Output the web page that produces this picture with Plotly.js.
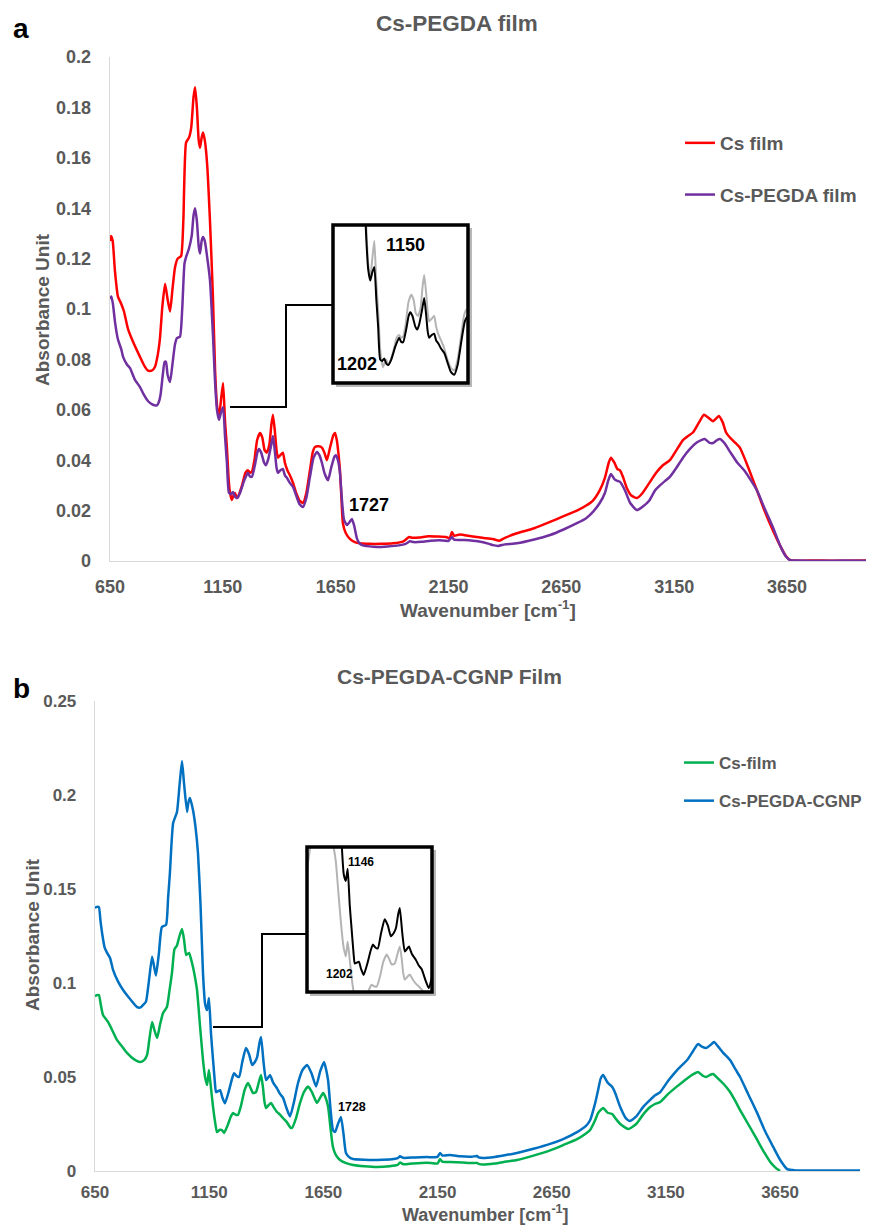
<!DOCTYPE html>
<html>
<head>
<meta charset="utf-8">
<script src="https://cdn.plot.ly/plotly-3.0.1.min.js"></script>
<style>html,body{margin:0;padding:0;background:#fff}#chart{width:869px;height:1226px}</style>
</head>
<body>
<div id="chart"></div>
<script>
// ---------- Panel a data ----------
const wnCsFilmA = [650,655,662,672,685,700,712,730,752,783,805,818,835,849,862,871,882,894,905,916,927,938,950,965,975,987,1000,1010,1020,1027,1035,1043,1049,1056,1062,1070,1080,1093,1106,1116,1124,1133,1142,1151,1160,1168,1176,1182,1190,1197,1204,1212,1217,1235,1250,1261,1270,1279,1290,1302,1315,1325,1335,1345,1356,1365,1372,1380,1388,1394,1405,1416,1425,1436,1447,1461,1475,1490,1505,1520,1536,1548,1558,1575,1589,1600,1611,1625,1640,1647,1655,1663,1669,1676,1682,1695,1713,1735,1758,1800,1850,1904,1950,1975,1990,2020,2060,2100,2140,2155,2165,2175,2200,2250,2300,2347,2375,2400,2453,2530,2600,2660,2719,2760,2790,2820,2843,2860,2870,2885,2898,2910,2923,2940,2960,2985,3010,3040,3070,3100,3131,3160,3189,3210,3233,3260,3282,3300,3322,3348,3365,3380,3397,3420,3441,3470,3500,3517,3550,3588,3620,3645,3665,3700,3800,3900,4000];
const absCsFilmA = [0.127,0.129,0.127,0.115,0.105,0.102,0.099,0.092,0.087,0.081,0.077,0.0755,0.0755,0.077,0.082,0.088,0.101,0.110,0.104,0.099,0.108,0.1165,0.120,0.121,0.135,0.166,0.168,0.172,0.184,0.188,0.180,0.167,0.164,0.168,0.170,0.167,0.158,0.135,0.105,0.075,0.062,0.057,0.064,0.0706,0.055,0.045,0.032,0.027,0.0242,0.026,0.027,0.025,0.0254,0.030,0.035,0.036,0.035,0.0355,0.040,0.048,0.0508,0.049,0.044,0.043,0.046,0.054,0.058,0.052,0.044,0.041,0.042,0.043,0.039,0.036,0.034,0.031,0.027,0.024,0.023,0.027,0.036,0.043,0.0452,0.0455,0.045,0.043,0.040,0.045,0.050,0.0508,0.048,0.042,0.036,0.024,0.015,0.011,0.0088,0.0075,0.007,0.0068,0.0068,0.007,0.0078,0.0095,0.0092,0.0093,0.0098,0.0097,0.0095,0.0090,0.0115,0.010,0.0105,0.0098,0.0092,0.0087,0.0080,0.0092,0.011,0.013,0.0155,0.0178,0.020,0.022,0.024,0.028,0.033,0.039,0.041,0.039,0.0365,0.036,0.0334,0.029,0.026,0.025,0.027,0.031,0.035,0.038,0.040,0.044,0.048,0.0495,0.051,0.055,0.058,0.057,0.0555,0.0575,0.055,0.051,0.049,0.047,0.045,0.039,0.032,0.028,0.020,0.012,0.006,0.002,0.0003,0.0001,0.0002,0.0001,0.0002];

const wnCsPegdaA = [650,656,663,672,685,700,708,725,739,760,783,800,818,840,858,866,874,884,892,898,905,916,928,938,947,960,970,980,987,1000,1012,1020,1027,1035,1043,1049,1056,1062,1070,1080,1093,1106,1115,1124,1133,1142,1151,1160,1168,1177,1186,1195,1204,1213,1226,1245,1261,1270,1279,1292,1303,1310,1320,1333,1341,1350,1362,1372,1380,1388,1394,1405,1416,1425,1434,1447,1461,1475,1490,1505,1520,1536,1552,1567,1578,1589,1600,1616,1630,1645,1651,1660,1669,1678,1687,1700,1712,1722,1732,1744,1756,1767,1800,1833,1880,1930,1960,1979,1995,2030,2070,2110,2150,2165,2175,2220,2280,2330,2347,2370,2400,2453,2530,2600,2660,2719,2760,2790,2820,2843,2858,2870,2885,2898,2910,2932,2955,2985,3010,3040,3065,3087,3110,3131,3160,3189,3220,3250,3270,3286,3305,3322,3340,3353,3375,3400,3430,3460,3490,3517,3550,3588,3620,3645,3665,3700,3800,3900,4000];
const absCsPegdaA = [0.104,0.105,0.102,0.095,0.088,0.084,0.081,0.078,0.0765,0.072,0.069,0.066,0.0635,0.062,0.0618,0.063,0.066,0.074,0.079,0.079,0.074,0.071,0.079,0.086,0.0885,0.089,0.100,0.118,0.1206,0.124,0.129,0.137,0.140,0.135,0.125,0.122,0.127,0.1286,0.127,0.121,0.1115,0.090,0.072,0.060,0.056,0.059,0.061,0.049,0.039,0.027,0.0265,0.0274,0.0255,0.025,0.027,0.032,0.035,0.0335,0.0334,0.038,0.043,0.0444,0.043,0.039,0.038,0.040,0.045,0.0496,0.044,0.037,0.035,0.036,0.0365,0.034,0.033,0.031,0.0294,0.026,0.0225,0.0214,0.025,0.0334,0.041,0.0433,0.042,0.039,0.035,0.032,0.037,0.0415,0.042,0.040,0.035,0.024,0.0163,0.0143,0.0155,0.0167,0.014,0.009,0.007,0.0063,0.0058,0.0056,0.0058,0.0062,0.0068,0.0078,0.0075,0.0076,0.0080,0.0082,0.0080,0.0095,0.0085,0.0083,0.0078,0.0068,0.0063,0.0060,0.0066,0.0070,0.0085,0.0103,0.0125,0.015,0.017,0.0195,0.023,0.027,0.032,0.0345,0.0325,0.0318,0.0314,0.028,0.023,0.0202,0.0215,0.024,0.028,0.030,0.0318,0.0334,0.037,0.041,0.0445,0.047,0.048,0.0484,0.047,0.0468,0.048,0.0484,0.0465,0.043,0.039,0.036,0.032,0.028,0.021,0.0133,0.006,0.0018,0.0003,0.0002,0.0001,0.0002,0.0001];

// ---------- Panel b data ----------
const wnCsFilmB = [650,657,667,676,685,707,725,746,770,790,820,847,865,878,888,900,910,922,935,948,965,975,987,998,1009,1020,1031,1040,1049,1056,1062,1070,1079,1088,1097,1110,1123,1132,1141,1149,1158,1167,1176,1184,1195,1206,1215,1230,1245,1254,1265,1276,1290,1305,1320,1332,1342,1355,1367,1377,1385,1392,1399,1410,1421,1432,1447,1460,1473,1490,1505,1513,1530,1548,1565,1583,1600,1622,1636,1649,1660,1671,1682,1692,1705,1723,1750,1780,1830,1885,1940,1975,1986,2000,2040,2080,2120,2150,2161,2170,2205,2260,2300,2323,2330,2350,2400,2450,2498,2570,2643,2700,2761,2800,2818,2840,2853,2875,2895,2915,2928,2950,2985,3020,3050,3081,3100,3125,3160,3199,3240,3270,3291,3310,3326,3345,3357,3380,3405,3431,3455,3475,3510,3550,3580,3607,3630,3650];
const absCsFilmB = [0.093,0.0935,0.0936,0.088,0.083,0.0793,0.075,0.0697,0.066,0.0628,0.0595,0.058,0.059,0.0617,0.070,0.0793,0.075,0.0707,0.078,0.084,0.0872,0.095,0.1053,0.118,0.120,0.125,0.1287,0.123,0.1149,0.1155,0.116,0.113,0.1085,0.103,0.096,0.077,0.059,0.050,0.0457,0.0537,0.044,0.034,0.026,0.0207,0.0218,0.0218,0.0202,0.024,0.029,0.0308,0.030,0.0298,0.035,0.043,0.0468,0.044,0.0415,0.042,0.047,0.051,0.045,0.037,0.0335,0.035,0.0362,0.034,0.0314,0.030,0.0282,0.026,0.0232,0.0229,0.028,0.0362,0.042,0.045,0.042,0.0362,0.039,0.0415,0.039,0.034,0.022,0.0128,0.0085,0.0059,0.0042,0.0032,0.0025,0.0021,0.0025,0.0032,0.0045,0.0036,0.0040,0.0043,0.0043,0.0040,0.0064,0.0050,0.0048,0.0045,0.0042,0.0043,0.0038,0.0034,0.0040,0.0050,0.0059,0.0082,0.011,0.0138,0.017,0.020,0.0218,0.027,0.0308,0.0335,0.031,0.0303,0.0282,0.025,0.0223,0.025,0.030,0.034,0.0355,0.0367,0.041,0.045,0.049,0.0515,0.0527,0.0508,0.050,0.0512,0.0516,0.049,0.046,0.042,0.037,0.0324,0.025,0.0165,0.010,0.0048,0.0018,0.0];

const wnCsPegdaCgnpB = [650,658,667,674,681,692,703,716,729,750,773,800,834,850,862,873,886,900,910,917,930,943,961,970,978,992,1009,1020,1031,1040,1053,1059,1066,1079,1090,1101,1112,1123,1132,1141,1149,1158,1167,1175,1180,1189,1198,1208,1219,1235,1250,1259,1270,1281,1295,1311,1325,1338,1350,1360,1370,1377,1388,1399,1410,1417,1430,1447,1460,1473,1490,1504,1520,1539,1560,1579,1598,1618,1636,1653,1662,1671,1682,1692,1701,1714,1727,1738,1749,1765,1780,1830,1885,1950,1975,1986,2000,2050,2104,2150,2161,2172,2205,2250,2300,2323,2330,2350,2400,2450,2498,2570,2643,2700,2761,2800,2818,2840,2853,2864,2875,2895,2915,2928,2950,2975,2993,3020,3050,3081,3100,3125,3160,3199,3243,3270,3291,3310,3326,3345,3361,3380,3400,3431,3455,3475,3510,3550,3585,3620,3650,3681,3720,3800,3900,4000];
const absCsPegdaCgnpB = [0.140,0.1405,0.1404,0.133,0.1266,0.119,0.116,0.1133,0.107,0.101,0.0963,0.092,0.0872,0.087,0.0885,0.090,0.101,0.114,0.108,0.104,0.116,0.1298,0.1309,0.145,0.1585,0.185,0.191,0.205,0.218,0.206,0.191,0.196,0.1984,0.192,0.183,0.169,0.142,0.105,0.089,0.0856,0.092,0.073,0.059,0.047,0.042,0.0425,0.043,0.039,0.036,0.042,0.049,0.052,0.0505,0.050,0.058,0.0654,0.062,0.0564,0.058,0.0606,0.068,0.0713,0.058,0.0484,0.050,0.051,0.047,0.044,0.041,0.039,0.033,0.029,0.036,0.0468,0.054,0.0564,0.052,0.045,0.053,0.058,0.054,0.048,0.032,0.0218,0.0207,0.025,0.0287,0.020,0.0096,0.0072,0.0064,0.006,0.0059,0.0062,0.0068,0.0078,0.007,0.0072,0.0074,0.0075,0.0096,0.0082,0.0085,0.0078,0.0076,0.0080,0.0072,0.0069,0.0075,0.0085,0.0096,0.0118,0.0144,0.017,0.0207,0.024,0.027,0.036,0.043,0.049,0.051,0.047,0.0447,0.0415,0.034,0.028,0.0266,0.029,0.034,0.0378,0.040,0.042,0.048,0.0537,0.059,0.064,0.0675,0.066,0.0654,0.067,0.0686,0.066,0.063,0.059,0.054,0.050,0.041,0.0308,0.021,0.0128,0.006,0.001,0.0003,0.0002,0.0003,0.0003];

// ---------- Tick labels ----------
const xTickVals = [650,1150,1650,2150,2650,3150,3650];
const xTickText = ['650','1150','1650','2150','2650','3150','3650'];
const yTickValsA = [0,0.02,0.04,0.06,0.08,0.1,0.12,0.14,0.16,0.18,0.2];
const yTickTextA = ['0','0.02','0.04','0.06','0.08','0.1','0.12','0.14','0.16','0.18','0.2'];
const yTickValsB = [0,0.05,0.1,0.15,0.2,0.25];
const yTickTextB = ['0','0.05','0.1','0.15','0.2','0.25'];

// ---------- helpers (pixel -> paper) ----------
const W = 869, H = 1226;
const px = x => x / W;
const py = y => 1 - y / H;
const FONT = 'Liberation Sans, Arial, sans-serif';
const GREY = '#595959';

const spl = {shape:'spline', smoothing:0.5};
const traces = [
  {x: wnCsFilmA, y: absCsFilmA, name:'Cs film', xaxis:'x', yaxis:'y', mode:'lines', legend:'legend', legendgroup:'a1', line:Object.assign({color:'#ff0000', width:2.5}, spl)},
  {x: wnCsPegdaA, y: absCsPegdaA, name:'Cs-PEGDA film', xaxis:'x', yaxis:'y', mode:'lines', legend:'legend', legendgroup:'a2', line:Object.assign({color:'#7030a0', width:2.5}, spl)},
  {x: wnCsFilmB, y: absCsFilmB, name:'Cs-film', xaxis:'x2', yaxis:'y2', mode:'lines', legend:'legend2', legendgroup:'b1', line:Object.assign({color:'#00b050', width:2.5}, spl)},
  {x: wnCsPegdaCgnpB, y: absCsPegdaCgnpB, name:'Cs-PEGDA-CGNP', xaxis:'x2', yaxis:'y2', mode:'lines', legend:'legend2', legendgroup:'b2', line:Object.assign({color:'#0070c0', width:2.5}, spl)},
  // insets
  {x: wnCsFilmA, y: absCsFilmA, xaxis:'x3', yaxis:'y3', mode:'lines', showlegend:false, line:Object.assign({color:'#b4b4b4', width:2}, spl)},
  {x: wnCsPegdaA, y: absCsPegdaA, xaxis:'x3', yaxis:'y3', mode:'lines', showlegend:false, line:Object.assign({color:'#000000', width:2}, spl)},
  {x: wnCsFilmB, y: absCsFilmB, xaxis:'x4', yaxis:'y4', mode:'lines', showlegend:false, line:Object.assign({color:'#b4b4b4', width:2}, spl)},
  {x: wnCsPegdaCgnpB, y: absCsPegdaCgnpB, xaxis:'x4', yaxis:'y4', mode:'lines', showlegend:false, line:Object.assign({color:'#000000', width:2}, spl)}
];

function xAx(dom, anchor, size, standoff){
  return {domain:dom, anchor:anchor, range:[650,4000], tickvals:xTickVals, ticktext:xTickText,
    showline:true, linecolor:'#d9d9d9', linewidth:1.3, showgrid:false, zeroline:false, ticks:'',
    ticklabelstandoff:standoff, tickfont:{family:FONT, size:size, color:GREY, weight:'bold'}, fixedrange:true};
}
function yAx(dom, anchor, range, vals, text, size, standoff){
  return {domain:dom, anchor:anchor, range:range, tickvals:vals, ticktext:text,
    showline:true, linecolor:'#d9d9d9', linewidth:1.3, showgrid:false, zeroline:false, ticks:'',
    ticklabelstandoff:standoff, tickfont:{family:FONT, size:size, color:GREY, weight:'bold'}, fixedrange:true};
}
function hidden(dom, anchor, range){
  return {domain:dom, anchor:anchor, range:range, visible:false, fixedrange:true};
}

function box(x0,y0,x1,y1){
  return [
    {type:'rect', xref:'paper', yref:'paper', x0:px(x0+3), x1:px(x1+4), y0:py(y1+4), y1:py(y0+3), fillcolor:'rgba(0,0,0,0.28)', line:{width:0}, layer:'below'},
    {type:'rect', xref:'paper', yref:'paper', x0:px(x0), x1:px(x1), y0:py(y1), y1:py(y0), fillcolor:'#ffffff', line:{width:0}, layer:'below'},
    {type:'rect', xref:'paper', yref:'paper', x0:px(x0), x1:px(x1), y0:py(y1), y1:py(y0), fillcolor:'rgba(0,0,0,0)', line:{color:'#000', width:3.5}, layer:'above'}
  ];
}
function connector(pts){
  const d = pts.map((p,i)=>(i?'L':'M')+px(p[0]).toFixed(5)+','+py(p[1]).toFixed(5)).join(' ');
  return {type:'path', xref:'paper', yref:'paper', path:d, line:{color:'#000', width:2}, layer:'above'};
}

const shapes = [].concat(
  box(333,225,468,383),
  box(307,847,432,992),
  [connector([[230,407],[286,407],[286,305],[333,305]]),
   connector([[213,1027],[262,1027],[262,934],[307,934]])]
);

function ann(text, x, y, size, color, extra){
  return Object.assign({text:text, xref:'paper', yref:'paper', x:px(x), y:py(y), xanchor:'center', yanchor:'middle',
    showarrow:false, font:{family:FONT, size:size, color:color, weight:'bold'}}, extra||{});
}

const annotations = [
  ann('<b>a</b>', 21, 28, 28, '#000'),
  ann('<b>b</b>', 21, 688, 28, '#000'),
  ann('<b>Cs-PEGDA film</b>', 457, 24, 22.5, GREY),
  ann('<b>Cs-PEGDA-CGNP Film</b>', 449, 676, 21, GREY),
  ann('<b>Absorbance Unit</b>', 42, 310, 19, GREY, {textangle:-90}),
  ann('<b>Absorbance Unit</b>', 32, 935, 19, GREY, {textangle:-90}),
  ann('<b>Wavenumber [cm<sup>-1</sup>]</b>', 488, 609, 19, GREY),
  ann('<b>Wavenumber [cm<sup>-1</sup>]</b>', 485, 1213, 18, GREY),
  ann('<b>1727</b>', 369, 505, 18, '#000'),
  ann('<b>1728</b>', 352, 1107, 12.5, '#000'),
  ann('<b>1150</b>', 405, 245, 18, '#000'),
  ann('<b>1202</b>', 357, 364, 18, '#000'),
  ann('<b>1146</b>', 361, 862, 12, '#000'),
  ann('<b>1202</b>', 339, 974, 12, '#000')
];

const layout = {
  width: W, height: H,
  margin:{l:0, r:0, t:0, b:0},
  paper_bgcolor:'#ffffff', plot_bgcolor:'rgba(0,0,0,0)',
  font:{family:FONT, color:GREY},
  xaxis: xAx([px(110), px(866)], 'y', 18, 9),
  yaxis: yAx([py(561), py(57)], 'x', [0,0.2], yTickValsA, yTickTextA, 18, 14),
  xaxis2: xAx([px(95), px(860)], 'y2', 17, 5),
  yaxis2: yAx([py(1171), py(701)], 'x2', [0,0.25], yTickValsB, yTickTextB, 17, 14),
  xaxis3: hidden([px(333), px(468)], 'y3', [968,1566]),
  yaxis3: hidden([py(383), py(225)], 'x3', [0.0184,0.0764]),
  xaxis4: hidden([px(307), px(432)], 'y4', [971,1518]),
  yaxis4: hidden([py(992), py(847)], 'x4', [0.027,0.1035]),
  legend:{x:px(680), y:py(124), xanchor:'left', yanchor:'top', bgcolor:'rgba(0,0,0,0)', tracegroupgap:24,
    traceorder:'grouped', font:{family:FONT, size:19, color:GREY, weight:'bold'}},
  legend2:{x:px(679), y:py(745), xanchor:'left', yanchor:'top', bgcolor:'rgba(0,0,0,0)', tracegroupgap:13,
    traceorder:'grouped', font:{family:FONT, size:17, color:GREY, weight:'bold'}},
  shapes: shapes,
  annotations: annotations,
  showlegend:true
};

Plotly.newPlot('chart', traces, layout, {staticPlot:true, displayModeBar:false});
</script>
</body>
</html>
